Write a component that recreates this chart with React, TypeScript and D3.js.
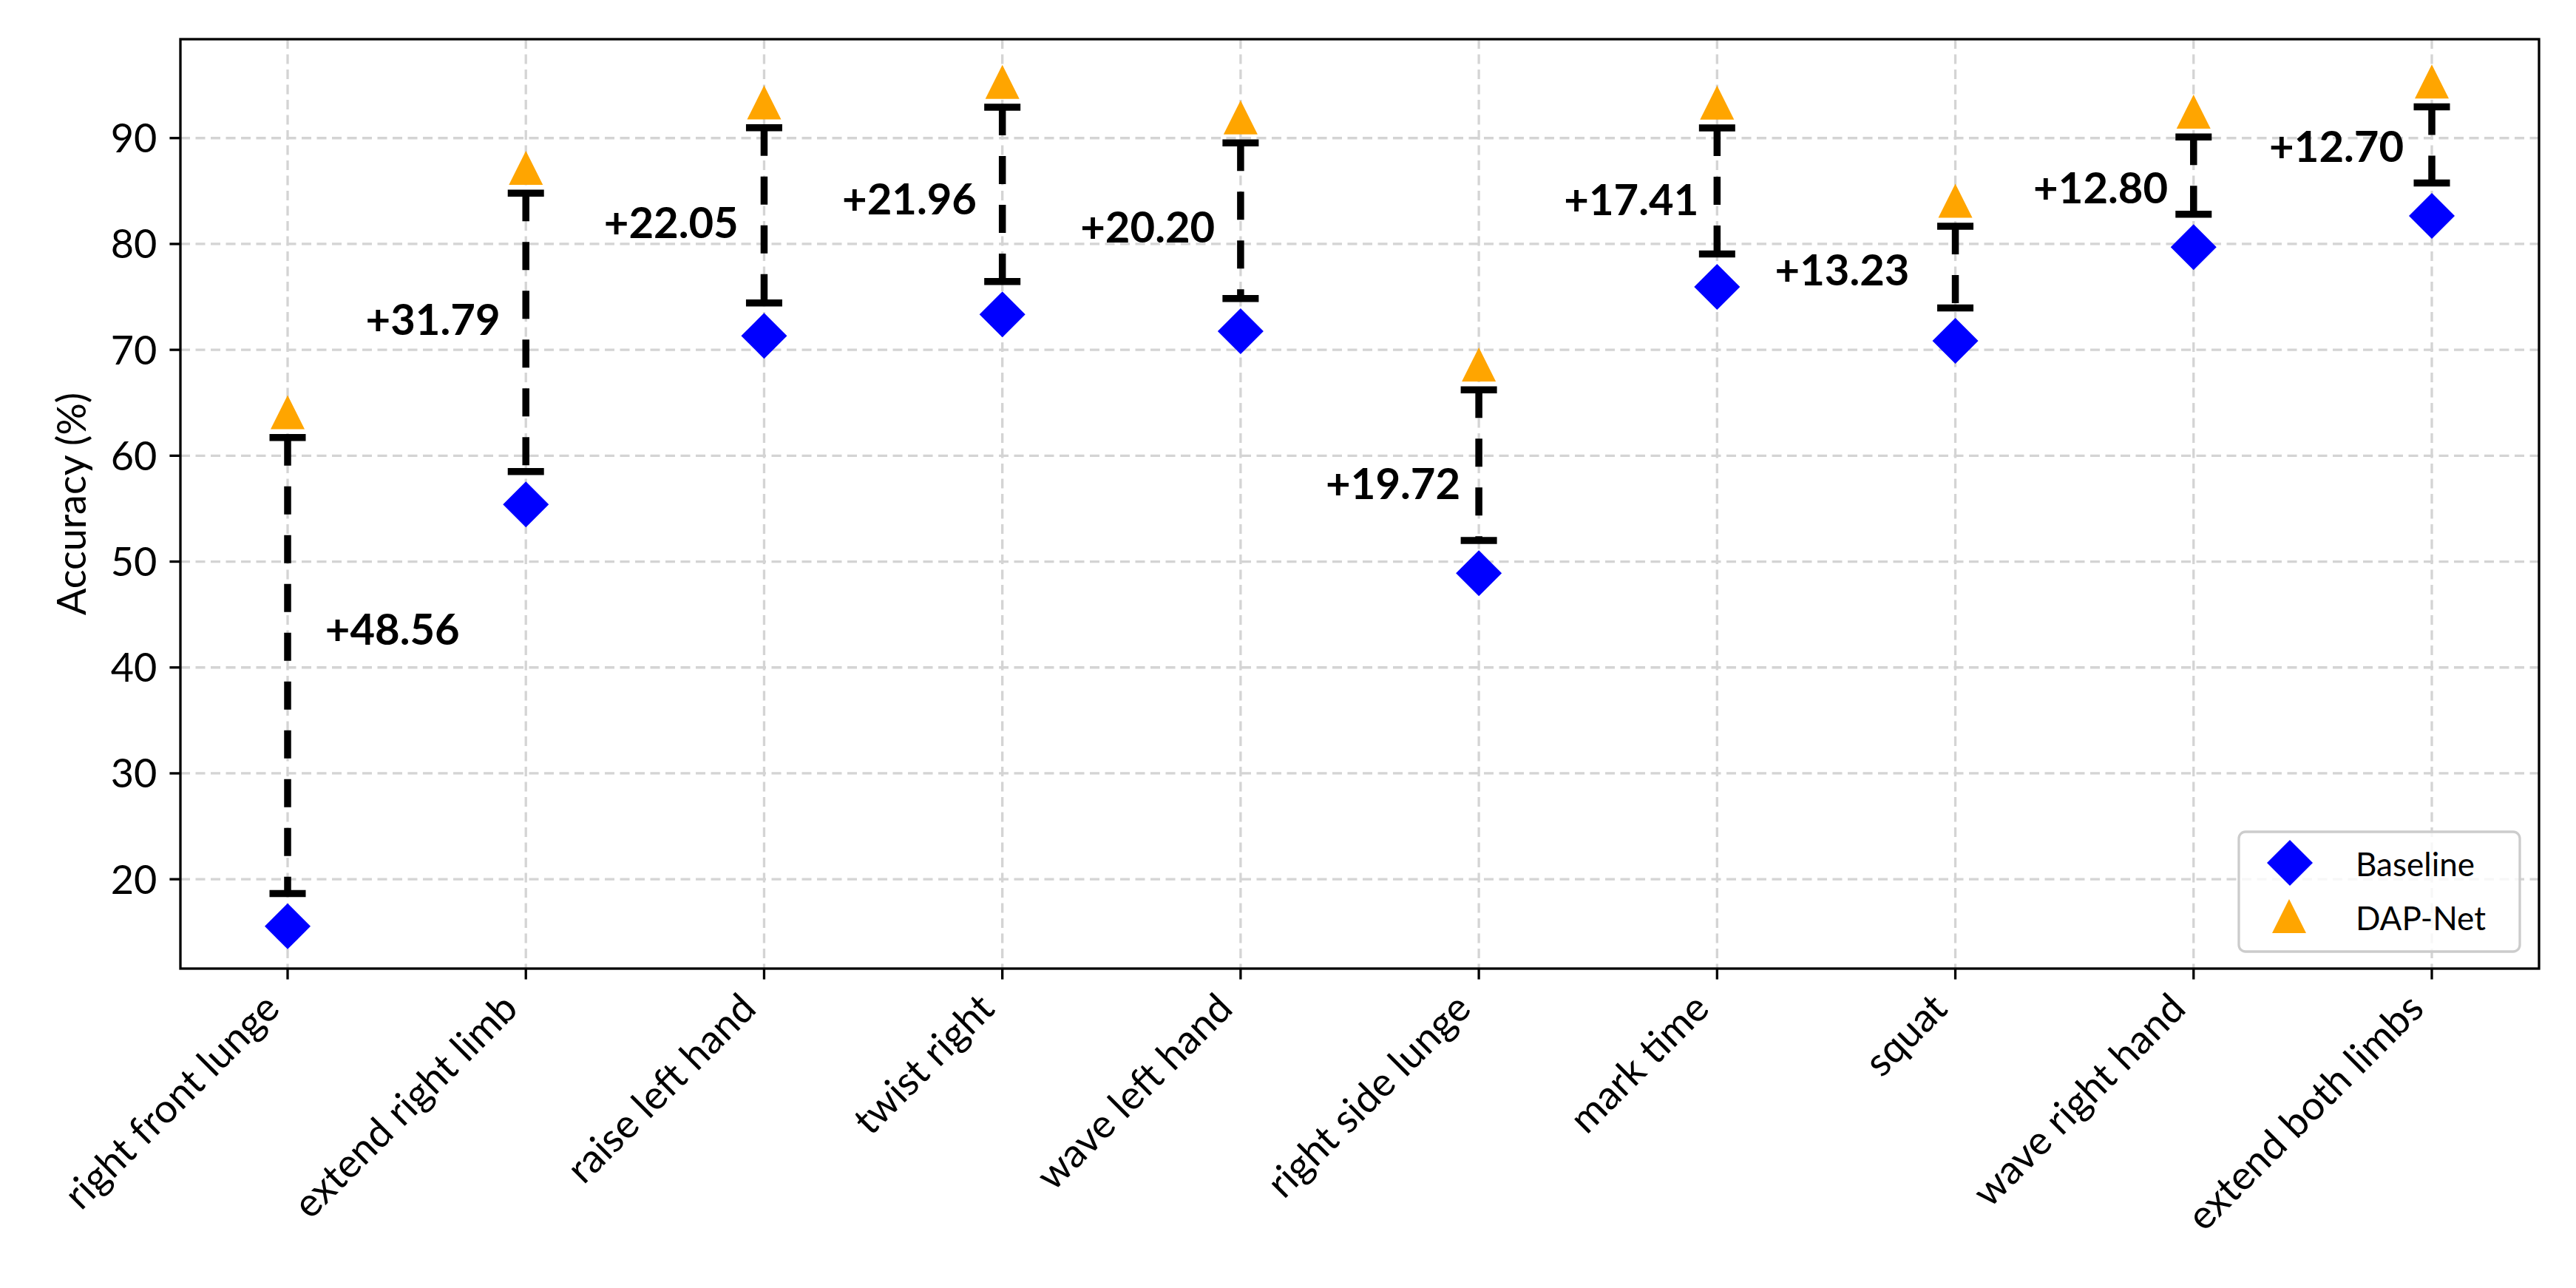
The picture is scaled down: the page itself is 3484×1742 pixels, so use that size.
import * as d3 from 'd3';

const categories = [
  'right front lunge',
  'extend right limb',
  'raise left hand',
  'twist right',
  'wave left hand',
  'right side lunge',
  'mark time',
  'squat',
  'wave right hand',
  'extend both limbs',
];

// accuracy (%) per action
const baseline = [15.55, 55.4, 71.32, 73.35, 71.75, 48.9, 75.95, 70.85, 79.7, 82.65];
const dapNet = [64.11, 87.19, 93.37, 95.31, 91.95, 68.62, 93.36, 84.08, 92.5, 95.35];
const gains = [48.56, 31.79, 22.05, 21.96, 20.2, 19.72, 17.41, 13.23, 12.8, 12.7];

const yTicks = [20, 30, 40, 50, 60, 70, 80, 90];

// gain label placement: [category steps, accuracy points] from the bar midpoint
const labelNudge = [
  [0.44, 3.8], [-0.39, 1.6], [-0.39, -0.3], [-0.39, -0.1], [-0.39, -0.25],
  [-0.36, -1.4], [-0.36, -0.5], [-0.475, 0.1], [-0.39, -0.8], [-0.4, 0.2],
];

const W = 3484;
const H = 1742;
const margin = { top: 53, right: 50, bottom: 432, left: 244 };
const FONT = "Lato, 'DejaVu Sans', sans-serif";

const BLUE = '#0000ff';
const ORANGE = '#ffa500';
const GRID = '#d4d4d4';

const diamond = (cx: number, cy: number, r: number) =>
  `M${cx},${cy - r}L${cx + r},${cy}L${cx},${cy + r}L${cx - r},${cy}Z`;
const triangle = (cx: number, cy: number, h: number) =>
  `M${cx},${cy - h / 2}L${cx + h / 2},${cy + h / 2}L${cx - h / 2},${cy + h / 2}Z`;

export default function App() {
  const x0 = margin.left;
  const x1 = W - margin.right;
  const y0 = margin.top;
  const y1 = H - margin.bottom;

  const lo = d3.min(baseline) as number;
  const hi = d3.max(dapNet) as number;
  const pad = (hi - lo) * 0.05;

  const x = d3.scalePoint<string>().domain(categories).range([x0, x1]).padding(0.45);
  const y = d3.scaleLinear().domain([lo - pad, hi + pad]).range([y1, y0]);
  const step = x.step();

  const capLow = 3.1; // gap between baseline marker and lower cap
  const capHigh = 2.4; // gap between DAP-Net marker and upper cap
  const capHalf = 24.5;
  const tickLen = 14.6;

  const legW = 380;
  const legH = 162;
  const legX = x1 - 26 - legW;
  const legY = y1 - 23 - legH;

  return (
    <svg
      width={W}
      height={H}
      viewBox={`0 0 ${W} ${H}`}
      style={{ position: 'absolute', left: 0, top: 0, display: 'block', background: '#fff' }}
      fontFamily={FONT}
    >
      <rect x={0} y={0} width={W} height={H} fill="#fff" />

      {/* grid */}
      <g stroke={GRID} strokeWidth={3.3} strokeDasharray="13 7.5">
        {yTicks.map((t) => (
          <line key={`gy${t}`} x1={x0} x2={x1} y1={y(t)} y2={y(t)} />
        ))}
        {categories.map((c) => (
          <line key={`gx${c}`} x1={x(c)} x2={x(c)} y1={y0} y2={y1} />
        ))}
      </g>

      {/* dashed gain bars with caps */}
      {categories.map((c, i) => {
        const cx = x(c) as number;
        const top = y(dapNet[i] - capHigh);
        const bot = y(baseline[i] + capLow);
        return (
          <g key={`bar${c}`} stroke="#000" strokeWidth={9.5}>
            <line x1={cx} x2={cx} y1={top} y2={bot} strokeDasharray="38 28" />
            <line x1={cx - capHalf} x2={cx + capHalf} y1={top} y2={top} />
            <line x1={cx - capHalf} x2={cx + capHalf} y1={bot} y2={bot} />
          </g>
        );
      })}

      {/* markers */}
      {categories.map((c, i) => (
        <path key={`b${c}`} d={diamond(x(c) as number, y(baseline[i]), 31)} fill={BLUE} />
      ))}
      {categories.map((c, i) => (
        <path key={`d${c}`} d={triangle(x(c) as number, y(dapNet[i]), 46)} fill={ORANGE} />
      ))}

      {/* gain labels */}
      {categories.map((c, i) => {
        const [dx, dy] = labelNudge[i];
        const mid = (baseline[i] + dapNet[i]) / 2;
        return (
          <text
            key={`g${c}`}
            x={(x(c) as number) + dx * step}
            y={y(mid + dy)}
            dy="0.36em"
            textAnchor="middle"
            fontSize={58}
            fontWeight="bold"
            fill="#000"
          >
            {`+${gains[i].toFixed(2)}`}
          </text>
        );
      })}

      {/* axes frame */}
      <rect x={x0} y={y0} width={x1 - x0} height={y1 - y0} fill="none" stroke="#000" strokeWidth={3.3} />

      {/* y axis */}
      {yTicks.map((t) => (
        <g key={`yt${t}`}>
          <line x1={x0 - tickLen} x2={x0} y1={y(t)} y2={y(t)} stroke="#000" strokeWidth={3.3} />
          <text x={x0 - tickLen - 17} y={y(t)} dy="0.36em" textAnchor="end" fontSize={54} fill="#000">
            {t}
          </text>
        </g>
      ))}
      <text
        transform={`translate(116,${(y0 + y1) / 2}) rotate(-90)`}
        textAnchor="middle"
        fontSize={54}
        fill="#000"
      >
        Accuracy (%)
      </text>

      {/* x axis */}
      {categories.map((c) => {
        const cx = x(c) as number;
        const ty = y1 + tickLen + 14.6;
        return (
          <g key={`xt${c}`}>
            <line x1={cx} x2={cx} y1={y1} y2={y1 + tickLen} stroke="#000" strokeWidth={3.3} />
            <text
              transform={`translate(${cx - 8},${ty + 28}) rotate(-45)`}
              textAnchor="end"
              fontSize={54}
              fill="#000"
            >
              {c}
            </text>
          </g>
        );
      })}

      {/* legend */}
      <g>
        <rect
          x={legX}
          y={legY}
          width={legW}
          height={legH}
          rx={9}
          fill="#fff"
          fillOpacity={0.8}
          stroke="#cccccc"
          strokeWidth={3.3}
        />
        <path d={diamond(legX + 69, legY + 42, 31)} fill={BLUE} />
        <path d={triangle(legX + 68, legY + 114, 46)} fill={ORANGE} />
        <text x={legX + 158} y={legY + 60} fontSize={44} fill="#000">
          Baseline
        </text>
        <text x={legX + 158} y={legY + 133} fontSize={44} fill="#000">
          DAP-Net
        </text>
      </g>
    </svg>
  );
}
